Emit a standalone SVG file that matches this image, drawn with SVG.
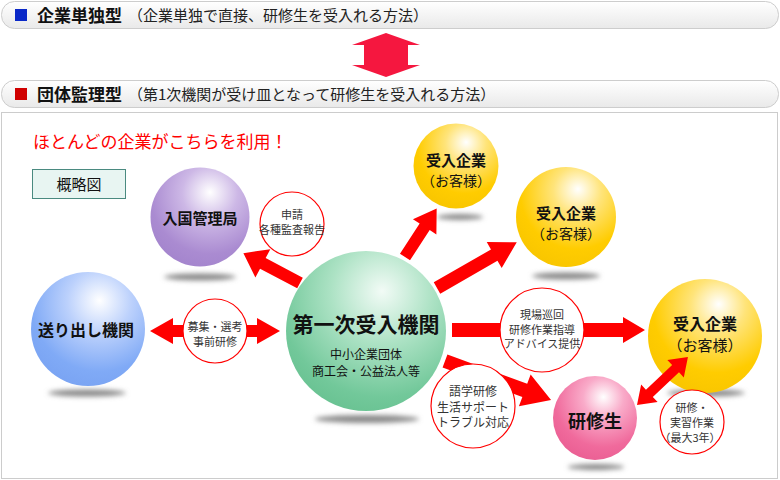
<svg xmlns="http://www.w3.org/2000/svg" width="780" height="480" viewBox="0 0 780 480">
<defs>
<style>
text{font-family:"Noto Sans CJK JP","Noto Sans",sans-serif;text-anchor:middle;fill:#111}
.bar{fill:url(#barG);stroke:#cdcdcd;stroke-width:1}
.hd{font-size:17px;font-weight:bold;text-anchor:start}
.sub{font-size:15px;text-anchor:start;fill:#222}
.arr{fill:#ff0000}
.lbl{fill:#fff;stroke:#ff0000;stroke-width:1.2}
.lt{font-size:11px;fill:#333}
.lt2{font-size:12px;fill:#333}
.nb{font-weight:bold;font-size:15px}
.shd{fill:#8a8a8a;filter:url(#blur)}
</style>
<linearGradient id="barG" x1="0" y1="0" x2="0" y2="1">
<stop offset="0" stop-color="#ffffff"/><stop offset="1" stop-color="#e9e9e9"/>
</linearGradient>
<radialGradient id="gPur" cx="0.6" cy="0.28" r="0.8" fx="0.6" fy="0.25">
<stop offset="0" stop-color="#ffffff"/><stop offset="0.35" stop-color="#cdb8e6"/><stop offset="0.75" stop-color="#aa8bd1"/><stop offset="1" stop-color="#a283cc"/>
</radialGradient>
<radialGradient id="gYel" cx="0.6" cy="0.28" r="0.8" fx="0.62" fy="0.22">
<stop offset="0" stop-color="#ffffff"/><stop offset="0.3" stop-color="#ffe47a"/><stop offset="0.7" stop-color="#ffcc00"/><stop offset="1" stop-color="#f7c400"/>
</radialGradient>
<radialGradient id="gGrn" cx="0.6" cy="0.28" r="0.8" fx="0.6" fy="0.25">
<stop offset="0" stop-color="#f2fbf6"/><stop offset="0.4" stop-color="#ace2c4"/><stop offset="0.8" stop-color="#72c89a"/><stop offset="1" stop-color="#66c08f"/>
</radialGradient>
<radialGradient id="gBlu" cx="0.6" cy="0.28" r="0.8" fx="0.6" fy="0.25">
<stop offset="0" stop-color="#ffffff"/><stop offset="0.35" stop-color="#bcd1fc"/><stop offset="0.75" stop-color="#80aaf6"/><stop offset="1" stop-color="#78a2f2"/>
</radialGradient>
<radialGradient id="gPnk" cx="0.6" cy="0.28" r="0.8" fx="0.6" fy="0.25">
<stop offset="0" stop-color="#ffffff"/><stop offset="0.3" stop-color="#f9abc9"/><stop offset="0.72" stop-color="#f06a9c"/><stop offset="1" stop-color="#e95c91"/>
</radialGradient>
<filter id="blur" x="-20%" y="-200%" width="140%" height="500%"><feGaussianBlur stdDeviation="2.5"/></filter>
</defs>

<g id="header1">
<rect class="bar" x="1.5" y="1.5" width="777" height="27" rx="13"/>
<rect x="15" y="9" width="12" height="12" fill="#0a28c8"/>
<text class="hd" x="37" y="22">企業単独型</text>
<text class="sub" x="128" y="21">（企業単独で直接、研修生を受入れる方法）</text>
</g>
<path id="swap" d="M386,33 L420,45 H408 V65 H420 L386,77 L352,65 H364 V45 H352 Z" fill="#f5173f"/>
<g id="header2">
<rect class="bar" x="1.5" y="80.5" width="777" height="27" rx="13"/>
<rect x="15" y="88" width="12" height="12" fill="#d00000"/>
<text class="hd" x="37" y="101">団体監理型</text>
<text class="sub" x="128" y="100">（第1次機関が受け皿となって研修生を受入れる方法）</text>
</g>

<rect x="1.5" y="112.5" width="776" height="366" fill="#fff" stroke="#cccccc"/>
<text x="33" y="148" style="font-size:17px;fill:#ff0000;text-anchor:start">ほとんどの企業がこちらを利用！</text>
<g id="legend">
<rect x="32.5" y="169.5" width="93" height="29" fill="#e8f5f2" stroke="#4a8a80"/>
<text x="79" y="190" style="font-size:15px">概略図</text>
</g>

<g id="shadows">
<ellipse class="shd" cx="200" cy="277" rx="36" ry="3.5"/>
<ellipse class="shd" cx="460" cy="217" rx="23" ry="3"/>
<ellipse class="shd" cx="566" cy="276" rx="34" ry="3.5"/>
<ellipse class="shd" cx="706" cy="393" rx="39" ry="3.5"/>
<ellipse class="shd" cx="596" cy="467" rx="28" ry="3"/>
<ellipse class="shd" cx="367" cy="419" rx="52" ry="4"/>
<ellipse class="shd" cx="87" cy="393" rx="39" ry="3.5"/>
</g>

<g id="immigration">
<circle cx="200" cy="217" r="49.5" fill="url(#gPur)"/>
<text class="nb" x="200" y="224">入国管理局</text>
</g>
<g id="company1">
<circle cx="456" cy="166" r="42.5" fill="url(#gYel)"/>
<text class="nb" x="456" y="166">受入企業</text>
<text x="456" y="186" style="font-size:14px">（お客様）</text>
</g>
<g id="company2">
<circle cx="566" cy="217" r="50" fill="url(#gYel)"/>
<text class="nb" x="566" y="219">受入企業</text>
<text x="566" y="239" style="font-size:14px">（お客様）</text>
</g>
<g id="company3">
<circle cx="705" cy="336" r="57" fill="url(#gYel)"/>
<text class="nb" x="705" y="330" style="font-size:16px">受入企業</text>
<text x="705" y="351" style="font-size:15px">（お客様）</text>
</g>
<g id="trainee">
<circle cx="595" cy="418" r="42" fill="url(#gPnk)"/>
<text x="595" y="428" style="font-size:18px;font-weight:bold">研修生</text>
</g>
<g id="primary">
<circle cx="366" cy="331" r="80" fill="url(#gGrn)"/>
<text x="366" y="332" style="font-size:21px;font-weight:bold">第一次受入機関</text>
<text x="366" y="359" style="font-size:12px">中小企業団体</text>
<text x="366" y="376" style="font-size:12px">商工会・公益法人等</text>
</g>
<g id="sending">
<circle cx="88" cy="329" r="57" fill="url(#gBlu)"/>
<text class="nb" x="86" y="336" style="font-size:16px">送り出し機関</text>
</g>

<g id="connectors">
<path class="arr" d="M0,-6 H42 V-16 L64,0 L42,16 V6 H0 Z" transform="translate(300,283) rotate(207.8)"/>
<path class="arr" d="M0,-6 H36 V-14 L58,0 L36,14 V6 H0 Z" transform="translate(405,257) rotate(-56.9)"/>
<path class="arr" d="M0,-6.5 H66 V-15 L92,0 L66,15 V6.5 H0 Z" transform="translate(437,288) rotate(-29.9)"/>
<path class="arr" d="M452,323 H623 V317 L645,330 L623,343 V337 H452 Z"/>
<path class="arr" d="M0,-7 H85 V-17 L113,0 L85,17 V7 H0 Z" transform="translate(445,361) rotate(20.2)"/>
<path class="arr" d="M150,331 L173,318 V325 H257 V318 L280,331 L257,344 V337 H173 V344 Z"/>
<path class="arr" d="M0,0 L17,-12 V-5 H53 V-12 L70,0 L53,12 V5 H17 V12 Z" transform="translate(637,405) rotate(-43.3)"/>
</g>

<g id="label-apply">
<circle class="lbl" cx="292" cy="224" r="32"/>
<text class="lt" x="292" y="219">申請</text>
<text class="lt" x="292" y="234">各種監査報告</text>
</g>
<g id="label-recruit">
<circle class="lbl" cx="215" cy="331" r="32"/>
<text class="lt" x="215" y="331">募集・選考</text>
<text class="lt" x="215" y="346">事前研修</text>
</g>
<g id="label-visit">
<circle class="lbl" cx="542" cy="330" r="42"/>
<text class="lt" x="542" y="319">現場巡回</text>
<text class="lt" x="542" y="333.5">研修作業指導</text>
<text class="lt" x="542" y="348">アドバイス提供</text>
</g>
<g id="label-support">
<circle class="lbl" cx="473" cy="406" r="42"/>
<text class="lt2" x="473" y="396">語学研修</text>
<text class="lt2" x="473" y="411.5">生活サポート</text>
<text class="lt2" x="473" y="427">トラブル対応</text>
</g>
<g id="label-work">
<circle class="lbl" cx="692" cy="422" r="32"/>
<text class="lt" x="692" y="411.5">研修・</text>
<text class="lt" x="692" y="426.5">実習作業</text>
<text class="lt" x="690" y="442">（最大3年）</text>
</g>
</svg>
